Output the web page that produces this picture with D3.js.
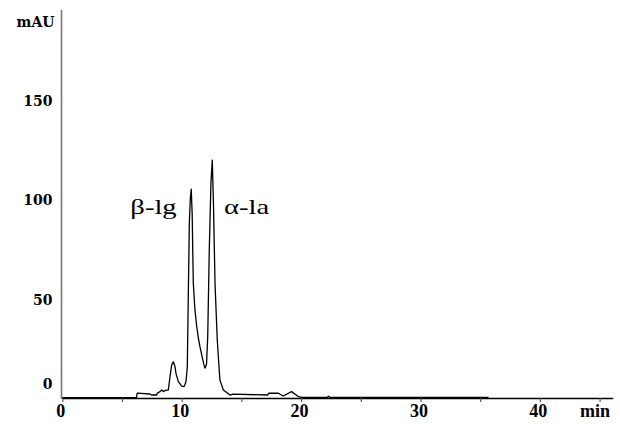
<!DOCTYPE html>
<html>
<head>
<meta charset="utf-8">
<script src="https://cdn.jsdelivr.net/npm/d3@7"></script>
<style>
  body { margin: 0; background: #fff; }
  svg { display: block; }
</style>
</head>
<body>
<svg id="chart"></svg>
<script>
const WIDTH = 620
const HEIGHT = 424

// retention time (min) and absorbance (mAU)
const TIMES = [
    0, 6.2, 6.28, 7.34, 7.48, 7.9, 7.96, 8.04, 8.18, 8.32, 8.46, 8.6, 8.74,
    8.88, 9.02, 9.16, 9.3, 9.44, 9.52, 9.72, 10.0, 10.19, 10.36, 10.47, 10.55,
    10.64, 10.72, 10.8, 10.88, 10.97, 11.1, 11.26, 11.4, 11.53, 11.7, 11.85,
    11.95, 12.08, 12.18, 12.31, 12.45, 12.56, 12.66, 12.79, 12.98, 13.2, 13.49,
    14.05, 14.3, 17.2, 17.3, 18.1, 18.5, 19.2, 19.8, 20.05, 22.2, 22.3, 22.4, 35.7
]
const VALUES = [
    0.2, 0.2, 2.4, 2.0, 1.5, 1.5, 2.5, 2.7, 3.2, 4.0, 3.2, 3.7, 4.0,
    4.0, 10.7, 16.6, 18.2, 15.7, 12.4, 8.2, 6.0, 5.7, 8.2, 15.7, 50,
    88, 100, 105, 92, 58, 45, 35.8, 30, 25.8, 21, 17,
    15, 17, 30.8, 74.4, 108, 119.6, 98, 57.8, 29, 9, 4,
    1.5, 1.9, 1.5, 2.4, 2.4, 1.0, 3.2, 0.65, 0.35, 0.35, 0.9, 0.35, 0.3
]

const X_TICKS = [0, 5, 10, 15, 20, 25, 30, 35, 40, 45]
const Y_TICKS = [0, 50, 100, 150]

const PEAK_LABELS = [
    { text: 'β-lg', t: 5.7, v: 92.5 },
    { text: 'α-la', t: 13.55, v: 92.5 }
]

const data = TIMES.map((t, i) => ({ t, v: VALUES[i] }))

const x = d3.scaleLinear().domain([0, 46.1]).range([62.3, 612.7])
const y = d3.scaleLinear().domain([0, 195]).range([398, 10])

const svg = d3.select('#chart')
    .attr('width', WIDTH)
    .attr('height', HEIGHT)

svg.append('rect')
    .attr('width', WIDTH)
    .attr('height', HEIGHT)
    .attr('fill', '#fff')

// y axis: plain grey line, labels only
svg.append('line')
    .attr('x1', 61.5).attr('x2', 61.5)
    .attr('y1', y.range()[1]).attr('y2', y(0) + 1)
    .attr('stroke', '#777')
    .attr('stroke-width', 1.6)

const yAxis = svg.append('g')
    .attr('transform', 'translate(61.5,0)')
    .call(d3.axisLeft(y).tickValues(Y_TICKS).tickSize(0).tickPadding(9))
yAxis.select('.domain').remove()
yAxis.selectAll('text')
    .attr('font-family', '"DejaVu Serif", serif')
    .attr('font-weight', 'bold')
    .attr('font-size', 14)
    .attr('fill', '#000')
    .attr('dy', d => d === 0 ? '-0.7em' : '0.42em')

svg.append('text')
    .attr('x', 54.5)
    .attr('y', 27)
    .attr('text-anchor', 'end')
    .attr('font-family', '"DejaVu Serif", serif')
    .attr('font-weight', 'bold')
    .attr('font-size', 14)
    .text('mAU')

// x axis
const xAxis = svg.append('g')
    .attr('transform', `translate(0,${y(0)})`)
    .call(d3.axisBottom(x)
        .tickValues(X_TICKS)
        .tickSize(4)
        .tickSizeOuter(0)
        .tickFormat(d => d % 10 === 0 ? d : ''))
xAxis.select('.domain')
    .attr('stroke', '#000')
    .attr('stroke-width', 1.3)
xAxis.selectAll('.tick line')
    .attr('stroke', '#555')
    .attr('stroke-width', 1.2)
xAxis.selectAll('text')
    .attr('font-family', '"Liberation Serif", serif')
    .attr('font-weight', 'bold')
    .attr('font-size', 18)
    .attr('fill', '#000')
    .attr('y', 19)
    .attr('dy', 0)
    .attr('dx', -2)

svg.append('text')
    .attr('x', 580)
    .attr('y', y(0) + 19)
    .attr('font-family', '"Liberation Serif", serif')
    .attr('font-weight', 'bold')
    .attr('font-size', 18)
    .text('min')

// chromatogram trace
const line = d3.line()
    .x(d => x(d.t))
    .y(d => y(d.v))

svg.append('path')
    .datum(data)
    .attr('d', line)
    .attr('fill', 'none')
    .attr('stroke', '#000')
    .attr('stroke-width', 1.3)
    .attr('stroke-linejoin', 'round')

// peak names, stretched a bit wider like the original
svg.selectAll('.peak-label')
    .data(PEAK_LABELS)
    .enter().append('text')
        .attr('class', 'peak-label')
        .attr('transform', d => `translate(${x(d.t)},${y(d.v)}) scale(1.3,1)`)
        .attr('font-family', '"Liberation Serif", serif')
        .attr('font-size', 22)
        .attr('fill', '#000')
        .text(d => d.text)
</script>
</body>
</html>
